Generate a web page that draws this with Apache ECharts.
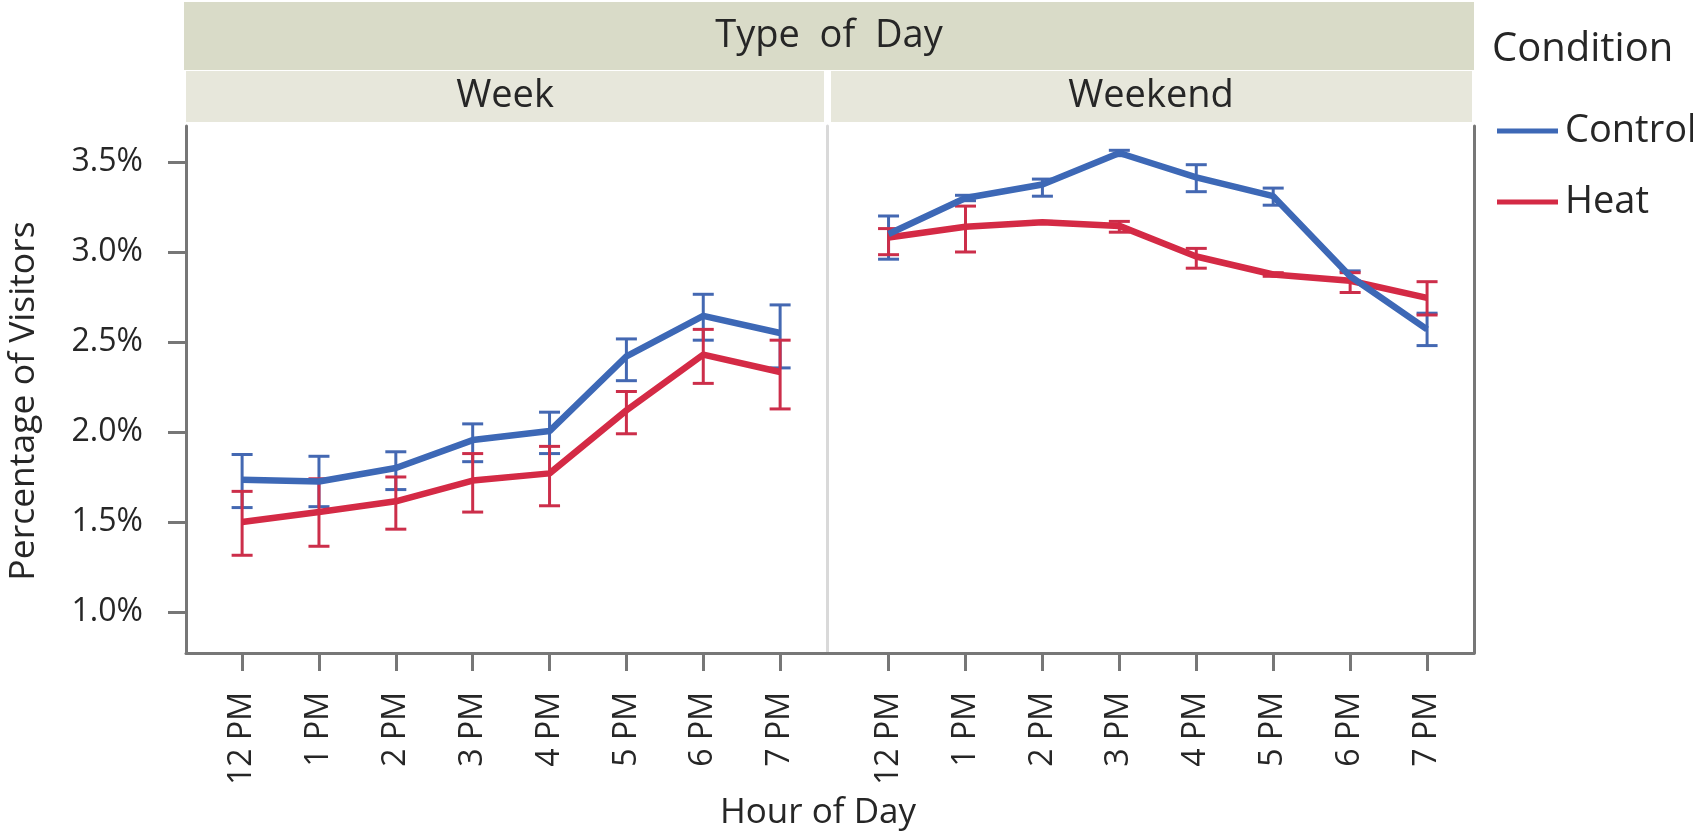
<!DOCTYPE html>
<html><head><meta charset="utf-8">
<script src="https://cdn.jsdelivr.net/npm/echarts@6/dist/echarts.min.js"></script>
<style>html,body{margin:0;padding:0;background:#fff}#c{width:1693px;height:837px}</style>
</head><body><div id="c"></div>
<script>
// ---- data ----
const hours = ['12 PM','1 PM','2 PM','3 PM','4 PM','5 PM','6 PM','7 PM'];
const yTicks = [1.0, 1.5, 2.0, 2.5, 3.0, 3.5];
const panels = ['Week', 'Weekend'];
const conditions = ['Control', 'Heat'];

const weekControlMean = [1.735, 1.725, 1.80, 1.955, 2.005, 2.42, 2.645, 2.55];
const weekControlLow  = [1.58, 1.585, 1.68, 1.835, 1.88, 2.285, 2.51, 2.356];
const weekControlHigh = [1.875, 1.865, 1.89, 2.045, 2.11, 2.517, 2.765, 2.706];

const weekHeatMean = [1.50, 1.555, 1.615, 1.73, 1.77, 2.12, 2.43, 2.333];
const weekHeatLow  = [1.315, 1.365, 1.46, 1.555, 1.59, 1.99, 2.27, 2.128];
const weekHeatHigh = [1.67, 1.74, 1.75, 1.88, 1.92, 2.225, 2.57, 2.51];

const weekendControlMean = [3.10, 3.30, 3.375, 3.55, 3.415, 3.31, 2.865, 2.57];
const weekendControlLow  = [2.96, 3.285, 3.31, 3.535, 3.335, 3.26, 2.84, 2.48];
const weekendControlHigh = [3.20, 3.315, 3.405, 3.565, 3.485, 3.355, 2.895, 2.66];

const weekendHeatMean = [3.08, 3.14, 3.165, 3.145, 2.975, 2.875, 2.84, 2.745];
const weekendHeatLow  = [2.985, 3.0, 3.16, 3.11, 2.91, 2.865, 2.775, 2.65];
const weekendHeatHigh = [3.13, 3.255, 3.17, 3.17, 3.02, 2.885, 2.885, 2.835];

// ---- styling ----
const FONT = 'Open Sans';
const TXT = '#262626';
const AXIS = '#777777';
const colors = { Control: '#3d68b6', Heat: '#d42a45' };
const errColors = { Control: '#4468b2', Heat: '#cc2e4a' };

const tableByPanel = [
  { Control: [weekControlMean, weekControlLow, weekControlHigh], Heat: [weekHeatMean, weekHeatLow, weekHeatHigh] },
  { Control: [weekendControlMean, weekendControlLow, weekendControlHigh], Heat: [weekendHeatMean, weekendHeatLow, weekendHeatHigh] }
];

const idx = hours.map((h, i) => i);

function errRender(color) {
  return function (params, api) {
    const x = api.value(0), lo = api.value(1), hi = api.value(2);
    const a = api.coord([x, lo]), b = api.coord([x, hi]);
    const hw = 10.5;
    const style = { stroke: color, lineWidth: 3 };
    return { type: 'group', children: [
      { type: 'line', shape: { x1: a[0], y1: a[1], x2: b[0], y2: b[1] }, style },
      { type: 'line', shape: { x1: a[0] - hw, y1: a[1], x2: a[0] + hw, y2: a[1] }, style },
      { type: 'line', shape: { x1: b[0] - hw, y1: b[1], x2: b[0] + hw, y2: b[1] }, style }
    ]};
  };
}

const series = [];
panels.forEach((p, pi) => {
  conditions.forEach((c) => {
    const [m] = tableByPanel[pi][c];
    series.push({
      name: c, type: 'line', xAxisIndex: pi, yAxisIndex: pi,
      data: m.map((v, i) => [i, v]), symbol: 'none', showSymbol: false,
      lineStyle: { color: colors[c], width: 6.5 }, itemStyle: { color: colors[c] },
      z: c === 'Control' ? 4 : 3, silent: true
    });
  });
});
panels.forEach((p, pi) => {
  conditions.forEach((c) => {
    const [m, lo, hi] = tableByPanel[pi][c];
    series.push({
      name: c, type: 'custom', xAxisIndex: pi, yAxisIndex: pi,
      data: m.map((v, i) => [i, lo[i], hi[i]]),
      encode: { x: 0, y: [1, 2] },
      renderItem: errRender(errColors[c]), z: 2, silent: true
    });
  });
});

const xAxisBase = (gi, min, max) => ({
  type: 'value', gridIndex: gi, min, max,
  axisLine: { show: true, onZero: false, lineStyle: { color: AXIS, width: 3 } },
  axisTick: { show: true, customValues: idx, length: 18, lineStyle: { color: AXIS, width: 3 } },
  axisLabel: { show: true, customValues: idx, rotate: 90, margin: 39, fontSize: 32, fontFamily: FONT, color: TXT,
               formatter: v => hours[Math.round(v)] },
  splitLine: { show: false }
});

const option = {
  animation: false,
  backgroundColor: '#ffffff',
  grid: [
    { left: 186, top: 126, width: 641, height: 527 },
    { left: 827, top: 126, width: 647, height: 527 }
  ],
  xAxis: [xAxisBase(0, -0.73, 7.61), xAxisBase(1, -0.8, 7.61)],
  yAxis: [
    { type: 'value', gridIndex: 0, min: 0.772, max: 3.70,
      axisLine: { show: true, onZero: false, lineStyle: { color: AXIS, width: 3 } },
      axisTick: { show: true, customValues: yTicks, length: 18, lineStyle: { color: AXIS, width: 3 } },
      axisLabel: { show: true, customValues: yTicks, margin: 43, fontSize: 32, fontFamily: FONT, color: TXT,
                   formatter: v => v.toFixed(1) + '%' },
      splitLine: { show: false } },
    { type: 'value', gridIndex: 1, min: 0.772, max: 3.70,
      axisLine: { show: true, onZero: false, lineStyle: { color: '#d9d9d9', width: 3 } },
      axisTick: { show: false }, axisLabel: { show: false }, splitLine: { show: false } },
    { type: 'value', gridIndex: 1, min: 0.772, max: 3.70, position: 'right',
      axisLine: { show: true, onZero: false, lineStyle: { color: AXIS, width: 3 } },
      axisTick: { show: false }, axisLabel: { show: false }, splitLine: { show: false } }
  ],
  legend: {
    data: conditions, orient: 'vertical', left: 1492, top: 104,
    icon: 'rect', itemWidth: 61, itemHeight: 5, itemGap: 27,
    selectedMode: false,
    textStyle: { fontSize: 38, fontFamily: FONT, color: TXT, lineHeight: 44, padding: [0, 0, 0, 2] }
  },
  graphic: [
    { type: 'rect', shape: { x: 184, y: 2, width: 1290, height: 68 }, style: { fill: '#d9dbc8' }, silent: true },
    { type: 'rect', shape: { x: 186, y: 71, width: 638, height: 51 }, style: { fill: '#e7e7db' }, silent: true },
    { type: 'rect', shape: { x: 831, y: 71, width: 641, height: 51 }, style: { fill: '#e7e7db' }, silent: true },
    { type: 'text', x: 829, y: 36, style: { text: 'Type  of  Day', fontSize: 38, fontFamily: FONT, fill: TXT, align: 'center', verticalAlign: 'middle' }, silent: true },
    { type: 'text', x: 505, y: 96, style: { text: panels[0], fontSize: 38, fontFamily: FONT, fill: TXT, align: 'center', verticalAlign: 'middle' }, silent: true },
    { type: 'text', x: 1151, y: 96, style: { text: panels[1], fontSize: 38, fontFamily: FONT, fill: TXT, align: 'center', verticalAlign: 'middle' }, silent: true },
    { type: 'text', x: 818, y: 813, style: { text: 'Hour of Day', fontSize: 35, fontFamily: FONT, fill: TXT, align: 'center', verticalAlign: 'middle' }, silent: true },
    { type: 'text', x: 24, y: 401, rotation: Math.PI / 2, style: { text: 'Percentage of Visitors', fontSize: 35.5, fontFamily: FONT, fill: TXT, align: 'center', verticalAlign: 'middle' }, silent: true },
    { type: 'text', x: 1492, y: 50, style: { text: 'Condition', fontSize: 40, fontFamily: FONT, fill: TXT, align: 'left', verticalAlign: 'middle' }, silent: true }
  ],
  series
};

const chart = echarts.init(document.getElementById('c'), null, { renderer: 'canvas' });
chart.setOption(option);
</script>
</body></html>
